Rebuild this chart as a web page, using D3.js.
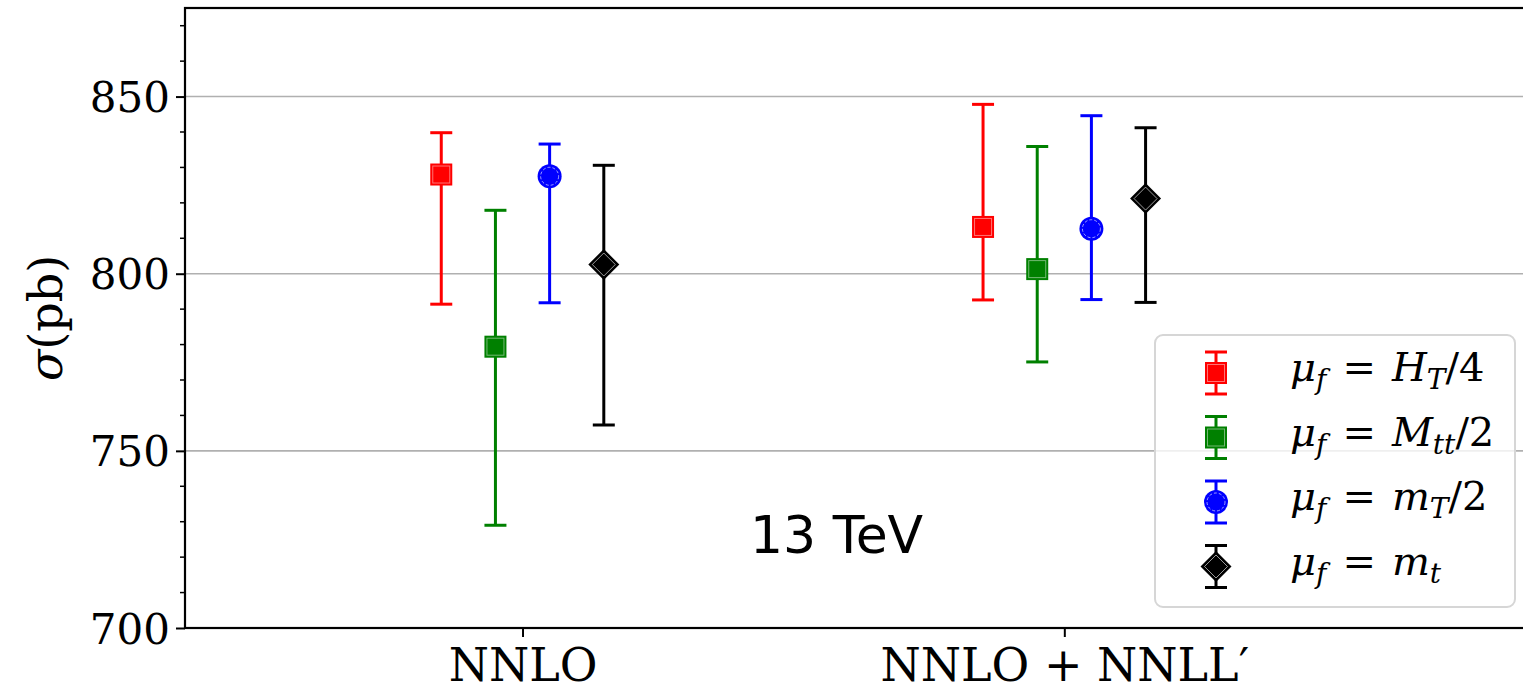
<!DOCTYPE html>
<html>
<head>
<meta charset="utf-8">
<script src="https://cdn.jsdelivr.net/npm/d3@7"></script>
<style>
  body { margin: 0; background: #fff; }
  svg { display: block; }
</style>
</head>
<body>
<div id="chart"></div>
<script>
// categories on the x axis
const categories = ["NNLO", "NNLO + NNLL\u2032"];
// scale choices (legend order)
const seriesKeys = ["HT4", "Mtt2", "mT2", "mt"];
// central values per series, one per category (pb)
const centralValues = [
  [828.0, 813.2],
  [779.4, 801.3],
  [827.5, 812.7],
  [802.6, 821.2]
];
// upper / lower ends of the scale bands (pb)
const upperValues = [
  [839.8, 847.8],
  [817.9, 835.9],
  [836.6, 844.6],
  [830.6, 841.2]
];
const lowerValues = [
  [791.4, 792.6],
  [729.0, 775.1],
  [791.8, 792.7],
  [757.3, 791.9]
];
const yTicks = [700, 750, 800, 850];

// ---- layout
const W = 1523, H = 693;
const mLeft = 185, mTop = 8, mBottom = 628, mRight = 1540;

const style = {
  HT4:  {color: "#ff0000", shape: "square"},
  Mtt2: {color: "#008000", shape: "square"},
  mT2:  {color: "#0000ff", shape: "circle"},
  mt:   {color: "#000000", shape: "diamond"}
};
const offsets = [-0.15, -0.05, 0.05, 0.15];

const x = d3.scaleLinear().domain([-0.623, 1.878]).range([mLeft, mRight]);
const y = d3.scaleLinear().domain([700, 875]).range([mBottom, mTop]);

const svg = d3.select("#chart").append("svg")
    .attr("width", W).attr("height", H)
    .style("font-family", "'DejaVu Serif', serif");

// grid
svg.append("g").selectAll("line").data(yTicks).join("line")
    .attr("x1", mLeft).attr("x2", mRight)
    .attr("y1", d => y(d)).attr("y2", d => y(d))
    .attr("stroke", "#b0b0b0").attr("stroke-width", 1.6);

// axes
const yAxis = svg.append("g").attr("transform", `translate(${mLeft},0)`)
    .call(d3.axisLeft(y).tickValues(yTicks).tickSize(9).tickPadding(6).tickFormat(d3.format("d")));
yAxis.select(".domain").remove();
yAxis.selectAll(".tick line").attr("stroke-width", 2);
yAxis.selectAll(".tick text").attr("font-size", 42).attr("fill", "#000")
    .attr("font-family", "'DejaVu Serif', serif").attr("dy", "0.36em");

const minor = d3.range(710, 876, 10).filter(v => v % 50 !== 0);
svg.append("g").selectAll("line").data(minor).join("line")
    .attr("x1", mLeft - 5).attr("x2", mLeft)
    .attr("y1", d => y(d)).attr("y2", d => y(d))
    .attr("stroke", "#000").attr("stroke-width", 1.5);

const xAxis = svg.append("g").attr("transform", `translate(0,${mBottom})`)
    .call(d3.axisBottom(x).tickValues([0, 1]).tickSize(9).tickPadding(8)
      .tickFormat((d, i) => categories[i]));
xAxis.select(".domain").remove();
xAxis.selectAll(".tick line").attr("stroke-width", 2);
xAxis.selectAll(".tick text").attr("font-size", 46).attr("fill", "#000")
    .attr("font-family", "'DejaVu Serif', serif").attr("dy", "0.78em");

// frame
svg.append("rect")
    .attr("x", mLeft).attr("y", mTop)
    .attr("width", mRight - mLeft).attr("height", mBottom - mTop)
    .attr("fill", "none").attr("stroke", "#000").attr("stroke-width", 2.2);

// y label
const yl = svg.append("text")
    .attr("transform", `translate(62,${(mTop + mBottom) / 2}) rotate(-90)`)
    .attr("text-anchor", "middle").attr("font-size", 46);
yl.append("tspan").attr("font-style", "italic").text("\u03c3");
yl.append("tspan").text("(pb)");

function marker(g, shape, color, cx, cy) {
  if (shape === "square") {
    g.append("rect").attr("x", cx - 11).attr("y", cy - 11).attr("width", 22).attr("height", 22)
      .attr("fill", color);
    g.append("rect").attr("x", cx - 8.5).attr("y", cy - 8.5).attr("width", 17).attr("height", 17)
      .attr("fill", "none").attr("stroke", "#fff").attr("stroke-opacity", 0.45).attr("stroke-width", 1);
  } else if (shape === "circle") {
    g.append("circle").attr("cx", cx).attr("cy", cy).attr("r", 12).attr("fill", color);
    g.append("circle").attr("cx", cx).attr("cy", cy).attr("r", 9)
      .attr("fill", "none").attr("stroke", "#fff").attr("stroke-opacity", 0.6)
      .attr("stroke-width", 1).attr("stroke-dasharray", "3,2");
  } else {
    const d = (r) => `M${cx},${cy - r}L${cx + r},${cy}L${cx},${cy + r}L${cx - r},${cy}Z`;
    g.append("path").attr("d", d(15.5)).attr("fill", color);
    g.append("path").attr("d", d(11.5)).attr("fill", "none")
      .attr("stroke", "#fff").attr("stroke-opacity", 0.6).attr("stroke-width", 1);
  }
}

function errorbar(g, color, cx, y0, y1, cap) {
  g.append("line").attr("x1", cx).attr("x2", cx).attr("y1", y0).attr("y2", y1)
    .attr("stroke", color).attr("stroke-width", 3);
  [y0, y1].forEach(yy => g.append("line")
    .attr("x1", cx - cap).attr("x2", cx + cap).attr("y1", yy).attr("y2", yy)
    .attr("stroke", color).attr("stroke-width", 3));
}

// data points
const pts = svg.append("g");
seriesKeys.forEach((key, s) => {
  const st = style[key];
  categories.forEach((c, i) => {
    const cx = x(i + offsets[s]);
    const g = pts.append("g");
    errorbar(g, st.color, cx, y(upperValues[s][i]), y(lowerValues[s][i]), 11);
    marker(g, st.shape, st.color, cx, y(centralValues[s][i]));
  });
});

// 13 TeV
svg.append("text").attr("x", 750).attr("y", 553)
    .attr("font-family", "'DejaVu Sans', sans-serif").attr("font-size", 52)
    .text("13 TeV");

// legend
const lg = svg.append("g");
lg.append("rect").attr("x", 1155).attr("y", 335).attr("width", 360).attr("height", 272)
    .attr("rx", 8).attr("fill", "#fff").attr("fill-opacity", 0.8)
    .attr("stroke", "#d6d6d6").attr("stroke-width", 2);

const legendText = [
  [["\u03bc", "i"], ["f", "sub"], ["=", "op"], ["H", "i"], ["T", "sub"], ["/4", ""]],
  [["\u03bc", "i"], ["f", "sub"], ["=", "op"], ["M", "i"], ["tt", "sub"], ["/2", ""]],
  [["\u03bc", "i"], ["f", "sub"], ["=", "op"], ["m", "i"], ["T", "sub"], ["/2", ""]],
  [["\u03bc", "i"], ["f", "sub"], ["=", "op"], ["m", "i"], ["t", "sub"]]
];
seriesKeys.forEach((key, s) => {
  const st = style[key];
  const cy = 373 + s * 64.5;
  const g = lg.append("g");
  errorbar(g, st.color, 1216, cy - 21, cy + 21, 11);
  marker(g, st.shape, st.color, 1216, cy);
  const t = g.append("text").attr("x", 1290).attr("y", cy + 8).attr("font-size", 40);
  legendText[s].forEach(([txt, kind], k) => {
    const ts = t.append("tspan").text(txt);
    if (kind === "i" || kind === "sub") ts.attr("font-style", "italic");
    const prev = k > 0 ? legendText[s][k - 1][1] : "";
    let dy = 0, dx = 0;
    if (kind === "sub") { ts.attr("font-size", 28); dy = 8; }
    else if (prev === "sub") dy = -8;
    if (kind === "op") dx = 16;
    if (prev === "op") dx = 16;
    ts.attr("dy", dy).attr("dx", dx);
  });
});
</script>
</body>
</html>
